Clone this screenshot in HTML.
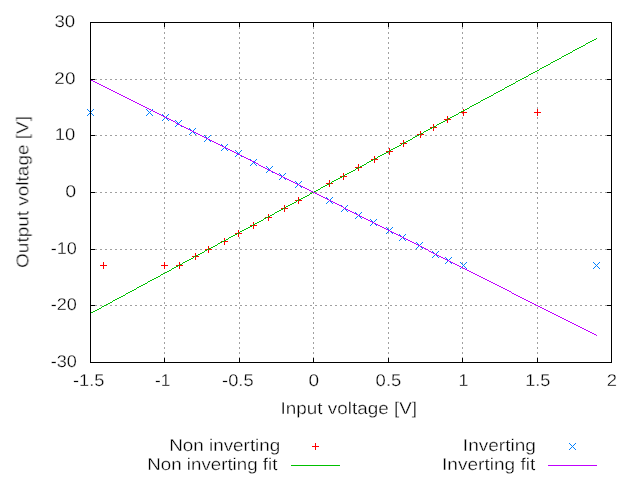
<!DOCTYPE html>
<html><head><meta charset="utf-8"><title>Output voltage vs input voltage</title>
<style>html,body{margin:0;padding:0;background:#fff;}body{width:640px;height:480px;overflow:hidden;font-family:"Liberation Sans",sans-serif;}svg{display:block;}text{font-family:"Liberation Sans",sans-serif;fill:#000;}</style></head><body>
<svg width="640" height="480" viewBox="0 0 640 480">
<rect width="640" height="480" fill="#fff"/>
<g shape-rendering="crispEdges" fill="none" stroke="#a0a0a0" stroke-width="1" stroke-dasharray="2 3">
<path d="M164.5 22V362"/>
<path d="M239.5 22V362"/>
<path d="M313.5 22V362"/>
<path d="M388.5 22V362"/>
<path d="M462.5 22V362"/>
<path d="M537.5 22V362"/>
<path d="M90 79.5H611"/>
<path d="M90 135.5H611"/>
<path d="M90 192.5H611"/>
<path d="M90 249.5H611"/>
<path d="M90 305.5H611"/>
</g>
<g shape-rendering="crispEdges" fill="none" stroke="#000" stroke-width="1">
<rect x="90.5" y="22.5" width="521" height="340"/>
<path d="M164.5 23v4M164.5 362v-4M239.5 23v4M239.5 362v-4M313.5 23v4M313.5 362v-4M388.5 23v4M388.5 362v-4M462.5 23v4M462.5 362v-4M537.5 23v4M537.5 362v-4M91 79.5h4M611 79.5h-4M91 135.5h4M611 135.5h-4M91 192.5h4M611 192.5h-4M91 249.5h4M611 249.5h-4M91 305.5h4M611 305.5h-4"/>
</g>
<g shape-rendering="crispEdges" fill="none" stroke-width="1">
<path stroke="#ff0000" d="M100 265.5h7M103.5 262v7M161 265.5h7M164.5 262v7M176 265.5h7M179.5 262v7M192 256.5h7M195.5 253v7M205 249.5h7M208.5 246v7M221 241.5h7M224.5 238v7M235 233.5h7M238.5 230v7M250 225.5h7M253.5 222v7M265 217.5h7M268.5 214v7M281 208.5h7M284.5 205v7M295 200.5h7M298.5 197v7M326 183.5h7M329.5 180v7M340 176.5h7M343.5 173v7M355 167.5h7M358.5 164v7M371 159.5h7M374.5 156v7M386 151.5h7M389.5 148v7M400 143.5h7M403.5 140v7M417 134.5h7M420.5 131v7M430 127.5h7M433.5 124v7M444 119.5h7M447.5 116v7M460 112.5h7M463.5 109v7M534 112.5h7M537.5 109v7M312 446.5h7M315.5 443v7"/>
<path stroke="#00c000" d="M90 313.5h1M91 312.5h2M93 311.5h2M95 310.5h2M97 309.5h2M99 308.5h2M101 307.5h1M102 306.5h2M104 305.5h2M106 304.5h2M108 303.5h2M110 302.5h2M112 301.5h1M113 300.5h2M115 299.5h2M117 298.5h2M119 297.5h2M121 296.5h2M123 295.5h2M125 294.5h1M126 293.5h2M128 292.5h2M130 291.5h2M132 290.5h2M134 289.5h2M136 288.5h1M137 287.5h2M139 286.5h2M141 285.5h2M143 284.5h2M145 283.5h2M147 282.5h1M148 281.5h2M150 280.5h2M152 279.5h2M154 278.5h2M156 277.5h2M158 276.5h2M160 275.5h1M161 274.5h2M163 273.5h2M165 272.5h2M167 271.5h2M169 270.5h2M171 269.5h1M172 268.5h2M174 267.5h2M176 266.5h2M178 265.5h2M180 264.5h2M182 263.5h1M183 262.5h2M185 261.5h2M187 260.5h2M189 259.5h2M191 258.5h2M193 257.5h1M194 256.5h2M196 255.5h2M198 254.5h2M200 253.5h2M202 252.5h2M204 251.5h1M205 250.5h2M207 249.5h2M209 248.5h2M211 247.5h2M213 246.5h2M215 245.5h2M217 244.5h1M218 243.5h2M220 242.5h2M222 241.5h2M224 240.5h2M226 239.5h2M228 238.5h1M229 237.5h2M231 236.5h2M233 235.5h2M235 234.5h2M237 233.5h2M239 232.5h1M240 231.5h2M242 230.5h2M244 229.5h2M246 228.5h2M248 227.5h2M250 226.5h2M252 225.5h1M253 224.5h2M255 223.5h2M257 222.5h2M259 221.5h2M261 220.5h2M263 219.5h1M264 218.5h2M266 217.5h2M268 216.5h2M270 215.5h2M272 214.5h2M274 213.5h1M275 212.5h2M277 211.5h2M279 210.5h2M281 209.5h2M283 208.5h2M285 207.5h1M286 206.5h2M288 205.5h2M290 204.5h2M292 203.5h2M294 202.5h2M296 201.5h1M297 200.5h2M299 199.5h2M301 198.5h2M303 197.5h2M305 196.5h2M307 195.5h2M309 194.5h1M310 193.5h2M312 192.5h2M314 191.5h2M316 190.5h2M318 189.5h2M320 188.5h1M321 187.5h2M323 186.5h2M325 185.5h2M327 184.5h2M329 183.5h2M331 182.5h1M332 181.5h2M334 180.5h2M336 179.5h2M338 178.5h2M340 177.5h2M342 176.5h2M344 175.5h1M345 174.5h2M347 173.5h2M349 172.5h2M351 171.5h2M353 170.5h2M355 169.5h1M356 168.5h2M358 167.5h2M360 166.5h2M362 165.5h2M364 164.5h2M366 163.5h1M367 162.5h2M369 161.5h2M371 160.5h2M373 159.5h2M375 158.5h2M377 157.5h1M378 156.5h2M380 155.5h2M382 154.5h2M384 153.5h2M386 152.5h2M388 151.5h1M389 150.5h2M391 149.5h2M393 148.5h2M395 147.5h2M397 146.5h2M399 145.5h2M401 144.5h1M402 143.5h2M404 142.5h2M406 141.5h2M408 140.5h2M410 139.5h2M412 138.5h1M413 137.5h2M415 136.5h2M417 135.5h2M419 134.5h2M421 133.5h2M423 132.5h1M424 131.5h2M426 130.5h2M428 129.5h2M430 128.5h2M432 127.5h2M434 126.5h2M436 125.5h1M437 124.5h2M439 123.5h2M441 122.5h2M443 121.5h2M445 120.5h2M447 119.5h1M448 118.5h2M450 117.5h2M452 116.5h2M454 115.5h2M456 114.5h2M458 113.5h1M459 112.5h2M461 111.5h2M463 110.5h2M465 109.5h2M467 108.5h2M469 107.5h1M470 106.5h2M472 105.5h2M474 104.5h2M476 103.5h2M478 102.5h2M480 101.5h1M481 100.5h2M483 99.5h2M485 98.5h2M487 97.5h2M489 96.5h2M491 95.5h2M493 94.5h1M494 93.5h2M496 92.5h2M498 91.5h2M500 90.5h2M502 89.5h2M504 88.5h1M505 87.5h2M507 86.5h2M509 85.5h2M511 84.5h2M513 83.5h2M515 82.5h1M516 81.5h2M518 80.5h2M520 79.5h2M522 78.5h2M524 77.5h2M526 76.5h2M528 75.5h1M529 74.5h2M531 73.5h2M533 72.5h2M535 71.5h2M537 70.5h2M539 69.5h1M540 68.5h2M542 67.5h2M544 66.5h2M546 65.5h2M548 64.5h2M550 63.5h1M551 62.5h2M553 61.5h2M555 60.5h2M557 59.5h2M559 58.5h2M561 57.5h1M562 56.5h2M564 55.5h2M566 54.5h2M568 53.5h2M570 52.5h2M572 51.5h1M573 50.5h2M575 49.5h2M577 48.5h2M579 47.5h2M581 46.5h2M583 45.5h2M585 44.5h1M586 43.5h2M588 42.5h2M590 41.5h2M592 40.5h2M594 39.5h2M596 38.5h1M291 465.5h49"/>
<path stroke="#0080ff" d="M87 109.5h1M87 115.5h1M88 110.5h1M88 114.5h1M89 111.5h1M89 113.5h1M90 112.5h1M91 113.5h1M91 111.5h1M92 114.5h1M92 110.5h1M93 115.5h1M93 109.5h1M146 109.5h1M146 115.5h1M147 110.5h1M147 114.5h1M148 111.5h1M148 113.5h1M149 112.5h1M150 113.5h1M150 111.5h1M151 114.5h1M151 110.5h1M152 115.5h1M152 109.5h1M162 114.5h1M162 120.5h1M163 115.5h1M163 119.5h1M164 116.5h1M164 118.5h1M165 117.5h1M166 118.5h1M166 116.5h1M167 119.5h1M167 115.5h1M168 120.5h1M168 114.5h1M175 120.5h1M175 126.5h1M176 121.5h1M176 125.5h1M177 122.5h1M177 124.5h1M178 123.5h1M179 124.5h1M179 122.5h1M180 125.5h1M180 121.5h1M181 126.5h1M181 120.5h1M189 128.5h1M189 134.5h1M190 129.5h1M190 133.5h1M191 130.5h1M191 132.5h1M192 131.5h1M193 132.5h1M193 130.5h1M194 133.5h1M194 129.5h1M195 134.5h1M195 128.5h1M204 135.5h1M204 141.5h1M205 136.5h1M205 140.5h1M206 137.5h1M206 139.5h1M207 138.5h1M208 139.5h1M208 137.5h1M209 140.5h1M209 136.5h1M210 141.5h1M210 135.5h1M221 144.5h1M221 150.5h1M222 145.5h1M222 149.5h1M223 146.5h1M223 148.5h1M224 147.5h1M225 148.5h1M225 146.5h1M226 149.5h1M226 145.5h1M227 150.5h1M227 144.5h1M235 150.5h1M235 156.5h1M236 151.5h1M236 155.5h1M237 152.5h1M237 154.5h1M238 153.5h1M239 154.5h1M239 152.5h1M240 155.5h1M240 151.5h1M241 156.5h1M241 150.5h1M250 159.5h1M250 165.5h1M251 160.5h1M251 164.5h1M252 161.5h1M252 163.5h1M253 162.5h1M254 163.5h1M254 161.5h1M255 164.5h1M255 160.5h1M256 165.5h1M256 159.5h1M266 166.5h1M266 172.5h1M267 167.5h1M267 171.5h1M268 168.5h1M268 170.5h1M269 169.5h1M270 170.5h1M270 168.5h1M271 171.5h1M271 167.5h1M272 172.5h1M272 166.5h1M279 173.5h1M279 179.5h1M280 174.5h1M280 178.5h1M281 175.5h1M281 177.5h1M282 176.5h1M283 177.5h1M283 175.5h1M284 178.5h1M284 174.5h1M285 179.5h1M285 173.5h1M295 181.5h1M295 187.5h1M296 182.5h1M296 186.5h1M297 183.5h1M297 185.5h1M298 184.5h1M299 185.5h1M299 183.5h1M300 186.5h1M300 182.5h1M301 187.5h1M301 181.5h1M326 197.5h1M326 203.5h1M327 198.5h1M327 202.5h1M328 199.5h1M328 201.5h1M329 200.5h1M330 201.5h1M330 199.5h1M331 202.5h1M331 198.5h1M332 203.5h1M332 197.5h1M341 205.5h1M341 211.5h1M342 206.5h1M342 210.5h1M343 207.5h1M343 209.5h1M344 208.5h1M345 209.5h1M345 207.5h1M346 210.5h1M346 206.5h1M347 211.5h1M347 205.5h1M355 212.5h1M355 218.5h1M356 213.5h1M356 217.5h1M357 214.5h1M357 216.5h1M358 215.5h1M359 216.5h1M359 214.5h1M360 217.5h1M360 213.5h1M361 218.5h1M361 212.5h1M370 219.5h1M370 225.5h1M371 220.5h1M371 224.5h1M372 221.5h1M372 223.5h1M373 222.5h1M374 223.5h1M374 221.5h1M375 224.5h1M375 220.5h1M376 225.5h1M376 219.5h1M386 227.5h1M386 233.5h1M387 228.5h1M387 232.5h1M388 229.5h1M388 231.5h1M389 230.5h1M390 231.5h1M390 229.5h1M391 232.5h1M391 228.5h1M392 233.5h1M392 227.5h1M399 234.5h1M399 240.5h1M400 235.5h1M400 239.5h1M401 236.5h1M401 238.5h1M402 237.5h1M403 238.5h1M403 236.5h1M404 239.5h1M404 235.5h1M405 240.5h1M405 234.5h1M416 242.5h1M416 248.5h1M417 243.5h1M417 247.5h1M418 244.5h1M418 246.5h1M419 245.5h1M420 246.5h1M420 244.5h1M421 247.5h1M421 243.5h1M422 248.5h1M422 242.5h1M432 251.5h1M432 257.5h1M433 252.5h1M433 256.5h1M434 253.5h1M434 255.5h1M435 254.5h1M436 255.5h1M436 253.5h1M437 256.5h1M437 252.5h1M438 257.5h1M438 251.5h1M445 257.5h1M445 263.5h1M446 258.5h1M446 262.5h1M447 259.5h1M447 261.5h1M448 260.5h1M449 261.5h1M449 259.5h1M450 262.5h1M450 258.5h1M451 263.5h1M451 257.5h1M460 262.5h1M460 268.5h1M461 263.5h1M461 267.5h1M462 264.5h1M462 266.5h1M463 265.5h1M464 266.5h1M464 264.5h1M465 267.5h1M465 263.5h1M466 268.5h1M466 262.5h1M593 262.5h1M593 268.5h1M594 263.5h1M594 267.5h1M595 264.5h1M595 266.5h1M596 265.5h1M597 266.5h1M597 264.5h1M598 267.5h1M598 263.5h1M599 268.5h1M599 262.5h1M569 443.5h1M569 449.5h1M570 444.5h1M570 448.5h1M571 445.5h1M571 447.5h1M572 446.5h1M573 447.5h1M573 445.5h1M574 448.5h1M574 444.5h1M575 449.5h1M575 443.5h1"/>
<path stroke="#c000ff" d="M90 79.5h1M91 80.5h2M93 81.5h2M95 82.5h2M97 83.5h2M99 84.5h2M101 85.5h2M103 86.5h2M105 87.5h2M107 88.5h2M109 89.5h2M111 90.5h2M113 91.5h2M115 92.5h2M117 93.5h2M119 94.5h2M121 95.5h2M123 96.5h2M125 97.5h2M127 98.5h2M129 99.5h2M131 100.5h2M133 101.5h2M135 102.5h2M137 103.5h2M139 104.5h2M141 105.5h2M143 106.5h2M145 107.5h2M147 108.5h2M149 109.5h2M151 110.5h2M153 111.5h2M155 112.5h2M157 113.5h2M159 114.5h2M161 115.5h2M163 116.5h2M165 117.5h2M167 118.5h2M169 119.5h2M171 120.5h2M173 121.5h2M175 122.5h1M176 123.5h2M178 124.5h2M180 125.5h2M182 126.5h2M184 127.5h2M186 128.5h2M188 129.5h2M190 130.5h2M192 131.5h2M194 132.5h2M196 133.5h2M198 134.5h2M200 135.5h2M202 136.5h2M204 137.5h2M206 138.5h2M208 139.5h2M210 140.5h2M212 141.5h2M214 142.5h2M216 143.5h2M218 144.5h2M220 145.5h2M222 146.5h2M224 147.5h2M226 148.5h2M228 149.5h2M230 150.5h2M232 151.5h2M234 152.5h2M236 153.5h2M238 154.5h2M240 155.5h2M242 156.5h2M244 157.5h2M246 158.5h2M248 159.5h2M250 160.5h2M252 161.5h2M254 162.5h2M256 163.5h2M258 164.5h1M259 165.5h2M261 166.5h2M263 167.5h2M265 168.5h2M267 169.5h2M269 170.5h2M271 171.5h2M273 172.5h2M275 173.5h2M277 174.5h2M279 175.5h2M281 176.5h2M283 177.5h2M285 178.5h2M287 179.5h2M289 180.5h2M291 181.5h2M293 182.5h2M295 183.5h2M297 184.5h2M299 185.5h2M301 186.5h2M303 187.5h2M305 188.5h2M307 189.5h2M309 190.5h2M311 191.5h2M313 192.5h2M315 193.5h2M317 194.5h2M319 195.5h2M321 196.5h2M323 197.5h2M325 198.5h2M327 199.5h2M329 200.5h2M331 201.5h2M333 202.5h2M335 203.5h2M337 204.5h2M339 205.5h2M341 206.5h2M343 207.5h1M344 208.5h2M346 209.5h2M348 210.5h2M350 211.5h2M352 212.5h2M354 213.5h2M356 214.5h2M358 215.5h2M360 216.5h2M362 217.5h2M364 218.5h2M366 219.5h2M368 220.5h2M370 221.5h2M372 222.5h2M374 223.5h2M376 224.5h2M378 225.5h2M380 226.5h2M382 227.5h2M384 228.5h2M386 229.5h2M388 230.5h2M390 231.5h2M392 232.5h2M394 233.5h2M396 234.5h2M398 235.5h2M400 236.5h2M402 237.5h2M404 238.5h2M406 239.5h2M408 240.5h2M410 241.5h2M412 242.5h2M414 243.5h2M416 244.5h2M418 245.5h2M420 246.5h2M422 247.5h2M424 248.5h2M426 249.5h2M428 250.5h1M429 251.5h2M431 252.5h2M433 253.5h2M435 254.5h2M437 255.5h2M439 256.5h2M441 257.5h2M443 258.5h2M445 259.5h2M447 260.5h2M449 261.5h2M451 262.5h2M453 263.5h2M455 264.5h2M457 265.5h2M459 266.5h2M461 267.5h2M463 268.5h2M465 269.5h2M467 270.5h2M469 271.5h2M471 272.5h2M473 273.5h2M475 274.5h2M477 275.5h2M479 276.5h2M481 277.5h2M483 278.5h2M485 279.5h2M487 280.5h2M489 281.5h2M491 282.5h2M493 283.5h2M495 284.5h2M497 285.5h2M499 286.5h2M501 287.5h2M503 288.5h2M505 289.5h2M507 290.5h2M509 291.5h2M511 292.5h1M512 293.5h2M514 294.5h2M516 295.5h2M518 296.5h2M520 297.5h2M522 298.5h2M524 299.5h2M526 300.5h2M528 301.5h2M530 302.5h2M532 303.5h2M534 304.5h2M536 305.5h2M538 306.5h2M540 307.5h2M542 308.5h2M544 309.5h2M546 310.5h2M548 311.5h2M550 312.5h2M552 313.5h2M554 314.5h2M556 315.5h2M558 316.5h2M560 317.5h2M562 318.5h2M564 319.5h2M566 320.5h2M568 321.5h2M570 322.5h2M572 323.5h2M574 324.5h2M576 325.5h2M578 326.5h2M580 327.5h2M582 328.5h2M584 329.5h2M586 330.5h2M588 331.5h2M590 332.5h2M592 333.5h2M594 334.5h2M596 335.5h1M548 465.5h49"/>
<path stroke="#000" d="M90.5 22V363"/>
</g>
<g font-size="17" text-anchor="middle" stroke="#fff" stroke-width="0.3" opacity="0.999" style="text-rendering:geometricPrecision">
<text transform="translate(64.80 27) scale(1.0965 1)">30</text>
<text transform="translate(64.88 84) scale(1.1124 1)">20</text>
<text transform="translate(65.12 140) scale(1.0853 1)">10</text>
<text transform="translate(70.69 197) scale(1.1566 1)">0</text>
<text transform="translate(63.76 254) scale(1.0633 1)">-10</text>
<text transform="translate(63.80 310) scale(1.0647 1)">-20</text>
<text transform="translate(63.80 367) scale(1.0647 1)">-30</text>
<text transform="translate(88.68 386) scale(1.0712 1)">-1.5</text>
<text transform="translate(162.56 386) scale(1.0130 1)">-1</text>
<text transform="translate(237.84 386) scale(1.0741 1)">-0.5</text>
<text transform="translate(313.78 386) scale(1.1193 1)">0</text>
<text transform="translate(388.45 386) scale(1.0861 1)">0.5</text>
<text transform="translate(463.41 386) scale(1.0474 1)">1</text>
<text transform="translate(537.75 386) scale(1.0650 1)">1.5</text>
<text transform="translate(611.98 386) scale(1.0850 1)">2</text>
<text transform="translate(348.81 414) scale(1.1101 1)">Input voltage [V]</text>
<text transform="translate(28.3 191.94) rotate(-90) scale(1.1164 1)">Output voltage [V]</text>
<text transform="translate(224.73 451) scale(1.1088 1)">Non inverting</text>
<text transform="translate(212.33 470) scale(1.1007 1)">Non inverting fit</text>
<text transform="translate(499.36 451) scale(1.1199 1)">Inverting</text>
<text transform="translate(488.64 470) scale(1.1199 1)">Inverting fit</text>
</g>
</svg></body></html>
